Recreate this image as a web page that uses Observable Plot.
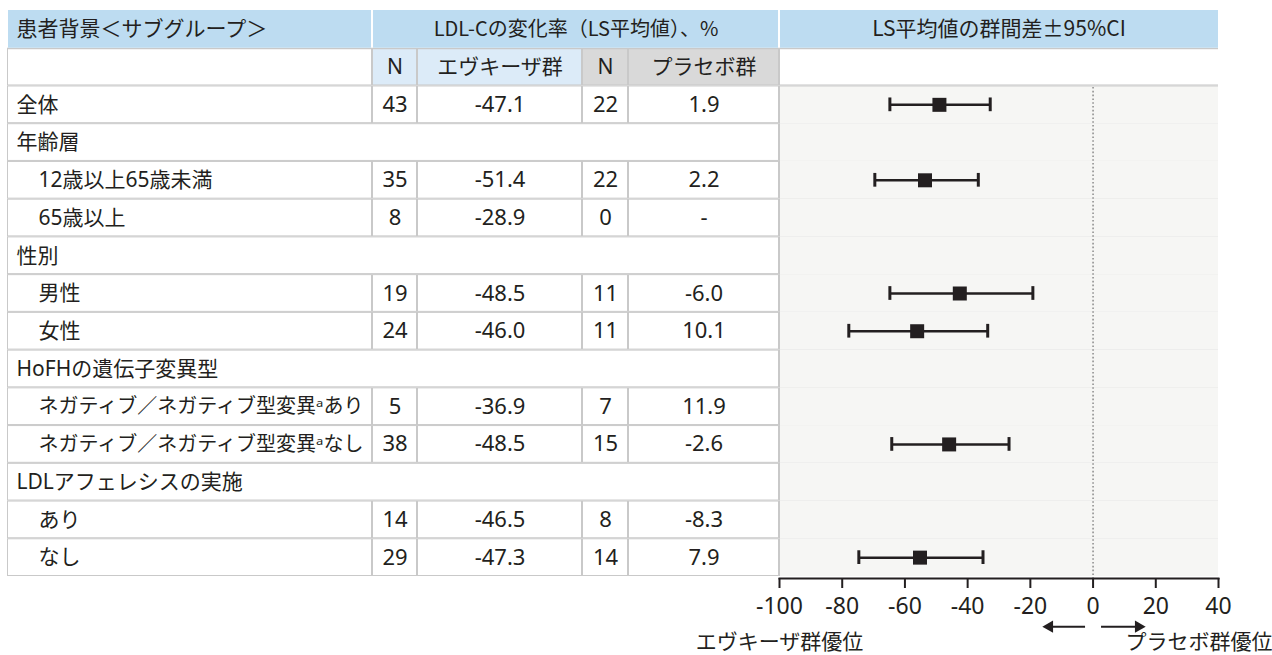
<!DOCTYPE html>
<html><head><meta charset="utf-8">
<script src="https://cdn.jsdelivr.net/npm/d3@7"></script>
<script src="https://cdn.jsdelivr.net/npm/@observablehq/plot@0.6"></script>
<style>
html,body{margin:0;padding:0;background:#fff;overflow:hidden;}
#wrap{position:relative;width:1272px;height:655px;}
#wrap > svg{position:absolute;left:0;top:0;}
</style>
<script>
// ---- data ----
const subgroups = ["全体","年齢層","12歳以上65歳未満","65歳以上","性別","男性","女性","HoFHの遺伝子変異型","ネガティブ／ネガティブ型変異ᵃあり","ネガティブ／ネガティブ型変異ᵃなし","LDLアフェレシスの実施","あり","なし"];
const isSub   = [false,false,true,true,false,true,true,false,true,true,false,true,true];
const nEvk    = [43,null,35,8,null,19,24,null,5,38,null,14,29];
const evkMean = [-47.1,null,-51.4,-28.9,null,-48.5,-46.0,null,-36.9,-48.5,null,-46.5,-47.3];
const nPbo    = [22,null,22,0,null,11,11,null,7,15,null,8,14];
const pboMean = [1.9,null,2.2,null,null,-6.0,10.1,null,11.9,-2.6,null,-8.3,7.9];
const diffMean= [-49.0,null,-53.6,null,null,-42.5,-56.1,null,null,-45.9,null,null,-55.2];
const ciLow   = [-64.8,null,-69.6,null,null,-64.8,-77.9,null,null,-64.2,null,null,-74.7];
const ciHigh  = [-32.8,null,-36.6,null,null,-19.2,-33.6,null,null,-26.8,null,null,-35.1];
const xTicks  = [-100,-80,-60,-40,-20,0,20,40];
const headTitles = ["患者背景＜サブグループ＞","LDL-Cの変化率（LS平均値）、%","LS平均値の群間差±95%CI"];
const colHeads = ["","N","エヴキーザ群","N","プラセボ群"];
const favourLabels = ["エヴキーザ群優位","プラセボ群優位"];

// ---- layout ----
const W = 1272, H = 655;
const yRange = [10, 576];
const colEdges = [[7,372],[372,417],[417,582],[582,628],[628,779]];
const mid = ([a,b]) => (a+b)/2;
const fontLatin = "'Noto Sans','Noto Sans CJK JP',sans-serif";
const fontCJK = "'Noto Sans CJK JP','Noto Sans',sans-serif";
const ink = "#231f20";
const grid = "#c9c9c9";

function draw() {
  const rowDomain = ["h1","h2",...subgroups];
  const rows = subgroups.map((s,i)=>({id:s, sub:isSub[i], n1:nEvk[i], m1:evkMean[i], n2:nPbo[i], m2:pboMean[i], d:diffMean[i], lo:ciLow[i], hi:ciHigh[i]}));
  const fr = rows.filter(r=>r.d!=null);
  const dataRows = rows.filter(r=>r.n1!=null);

  const cells = [];
  rows.forEach(r=>{
    if (r.n1!=null) colEdges.forEach(([a,b])=>cells.push({id:r.id,x1:a,x2:b}));
    else cells.push({id:r.id,x1:colEdges[0][0],x2:colEdges[4][1]});
  });
  const h2Fills = ["#ffffff","#dcebf8","#dcebf8","#d9d9d9","#d9d9d9"];
  const h2Cells = colEdges.map(([a,b],j)=>({id:"h2",x1:a,x2:b,fill:h2Fills[j],label:colHeads[j],xm:(a+b)/2}));
  const h1Cells = [{id:"h1",x1:7,x2:372},{id:"h1",x1:372,x2:779}];

  const yOpt = {type:"band", domain:rowDomain, range:yRange, padding:0, round:false, axis:null};

  const A = Plot.plot({
    width:W, height:H, margin:0,
    x:{type:"identity"}, y:yOpt,
    style:{fontFamily:fontLatin, fontSize:"21px", color:ink, background:"transparent"},
    marks:[
      Plot.barX(rowDomain.slice(1), {y:d=>d, x1:7, x2:779, fill:grid}),
      Plot.barX(h1Cells, {y:"id", x1:"x1", x2:"x2", fill:"#bddcf1", insetLeft:1, insetRight:1}),
      Plot.barX(h2Cells, {y:"id", x1:"x1", x2:"x2", fill:"fill", insetLeft:1, insetRight:1, insetTop:1.5, insetBottom:1}),
      Plot.barX(cells, {y:"id", x1:"x1", x2:"x2", fill:"#ffffff", insetLeft:1, insetRight:1, insetTop:1, insetBottom:1}),
      Plot.text([headTitles[0]], {y:()=>"h1", x:16, textAnchor:"start", fill:ink, fontSize:21, fontFamily:fontCJK}),
      Plot.text([headTitles[1]], {y:()=>"h1", x:(colEdges[1][0]+colEdges[4][1])/2, fill:ink, fontSize:20, fontFamily:fontCJK}),
      Plot.text(h2Cells.filter(d=>d.label), {y:"id", x:"xm", text:"label", fill:ink}),
      Plot.text(rows.filter(d=>!d.sub), {y:"id", x:16, text:d=>d.id, textAnchor:"start", fill:ink}),
      Plot.text(rows.filter(d=>d.sub), {y:"id", x:38, text:d=>d.id, textAnchor:"start", fill:ink, fontSize:d=>d.id.length>12?20:21}),
      Plot.text(dataRows, {y:"id", x:mid(colEdges[1]), text:d=>String(d.n1), fill:ink, fontSize:22}),
      Plot.text(dataRows, {y:"id", x:mid(colEdges[2]), text:d=>d.m1.toFixed(1), fill:ink, fontSize:22}),
      Plot.text(dataRows, {y:"id", x:mid(colEdges[3]), text:d=>String(d.n2), fill:ink, fontSize:22}),
      Plot.text(dataRows, {y:"id", x:mid(colEdges[4]), text:d=>d.m2==null?"-":d.m2.toFixed(1), fill:ink, fontSize:22})
    ]
  });

  const B = Plot.plot({
    width:W, height:H, marginLeft:779, marginRight:54, marginTop:10, marginBottom:77,
    x:{domain:[-100,40], axis:null}, y:yOpt,
    style:{fontFamily:fontLatin, fontSize:"21px", color:ink, background:"transparent"},
    marks:[
      Plot.barX(rowDomain.slice(1), {y:d=>d, x1:-100, x2:40, fill:grid}),
      Plot.barX(["h1"], {y:d=>d, x1:-100, x2:40, fill:"#bddcf1", insetLeft:1}),
      Plot.barX(["h2"], {y:d=>d, x1:-100, x2:40, fill:"#fff", insetLeft:1, insetTop:1.5, insetBottom:1}),
      Plot.barX(subgroups.slice(0,1), {y:d=>d, x1:-100, x2:40, fill:"#f6f6f4", insetLeft:1, insetTop:1}),
      Plot.barX(subgroups.slice(1), {y:d=>d, x1:-100, x2:40, fill:"#f6f6f4", insetLeft:1}),
      Plot.text([headTitles[2]], {y:()=>"h1", x:-30, fill:ink, fontSize:21, fontFamily:fontCJK}),
      Plot.ruleX([0], {insetTop:77, stroke:"#9c9c9c", strokeWidth:1.8, strokeDasharray:"1.6 2.2"}),
      Plot.ruleY(fr, {y:"id", x1:"lo", x2:"hi", stroke:ink, strokeWidth:2.5}),
      Plot.tickX(fr, {y:"id", x:"lo", stroke:ink, strokeWidth:3, insetTop:12, insetBottom:12}),
      Plot.tickX(fr, {y:"id", x:"hi", stroke:ink, strokeWidth:3, insetTop:12, insetBottom:12}),
      Plot.dot(fr, {y:"id", x:"d", symbol:"square", r:7.9, fill:ink, stroke:null}),
      Plot.frame({anchor:"bottom", stroke:ink, strokeWidth:2}),
      Plot.axisX({ticks:xTicks, tickSize:10, tickPadding:9, strokeWidth:2, fontSize:23, label:null, tickFormat:d=>String(d), fill:ink, stroke:ink}),
      // direction arrows
      Plot.ruleY([[-2.4,-13.9],[2.7,14.5]], {y:()=>"なし", x1:d=>d[0], x2:d=>d[1], dy:69, stroke:ink, strokeWidth:2}),
      Plot.dot([-13.9], {y:()=>"なし", x:d=>d, dy:69, symbol:"triangle", r:4.6, rotate:-90, fill:ink, stroke:null}),
      Plot.dot([14.5], {y:()=>"なし", x:d=>d, dy:69, symbol:"triangle", r:4.6, rotate:90, fill:ink, stroke:null}),
      Plot.text([favourLabels[0]], {frameAnchor:"bottom", lineAnchor:"middle", x:-100, dy:64, fontSize:21, fill:ink, fontFamily:fontCJK}),
      Plot.text([favourLabels[1]], {frameAnchor:"bottom", lineAnchor:"middle", x:33.8, dy:64, fontSize:21, fill:ink, fontFamily:fontCJK})
    ]
  });

  const wrap = document.getElementById("wrap");
  wrap.appendChild(A);
  wrap.appendChild(B);
}
document.addEventListener("DOMContentLoaded", draw);
</script>
</head><body><div id="wrap"></div></body></html>
